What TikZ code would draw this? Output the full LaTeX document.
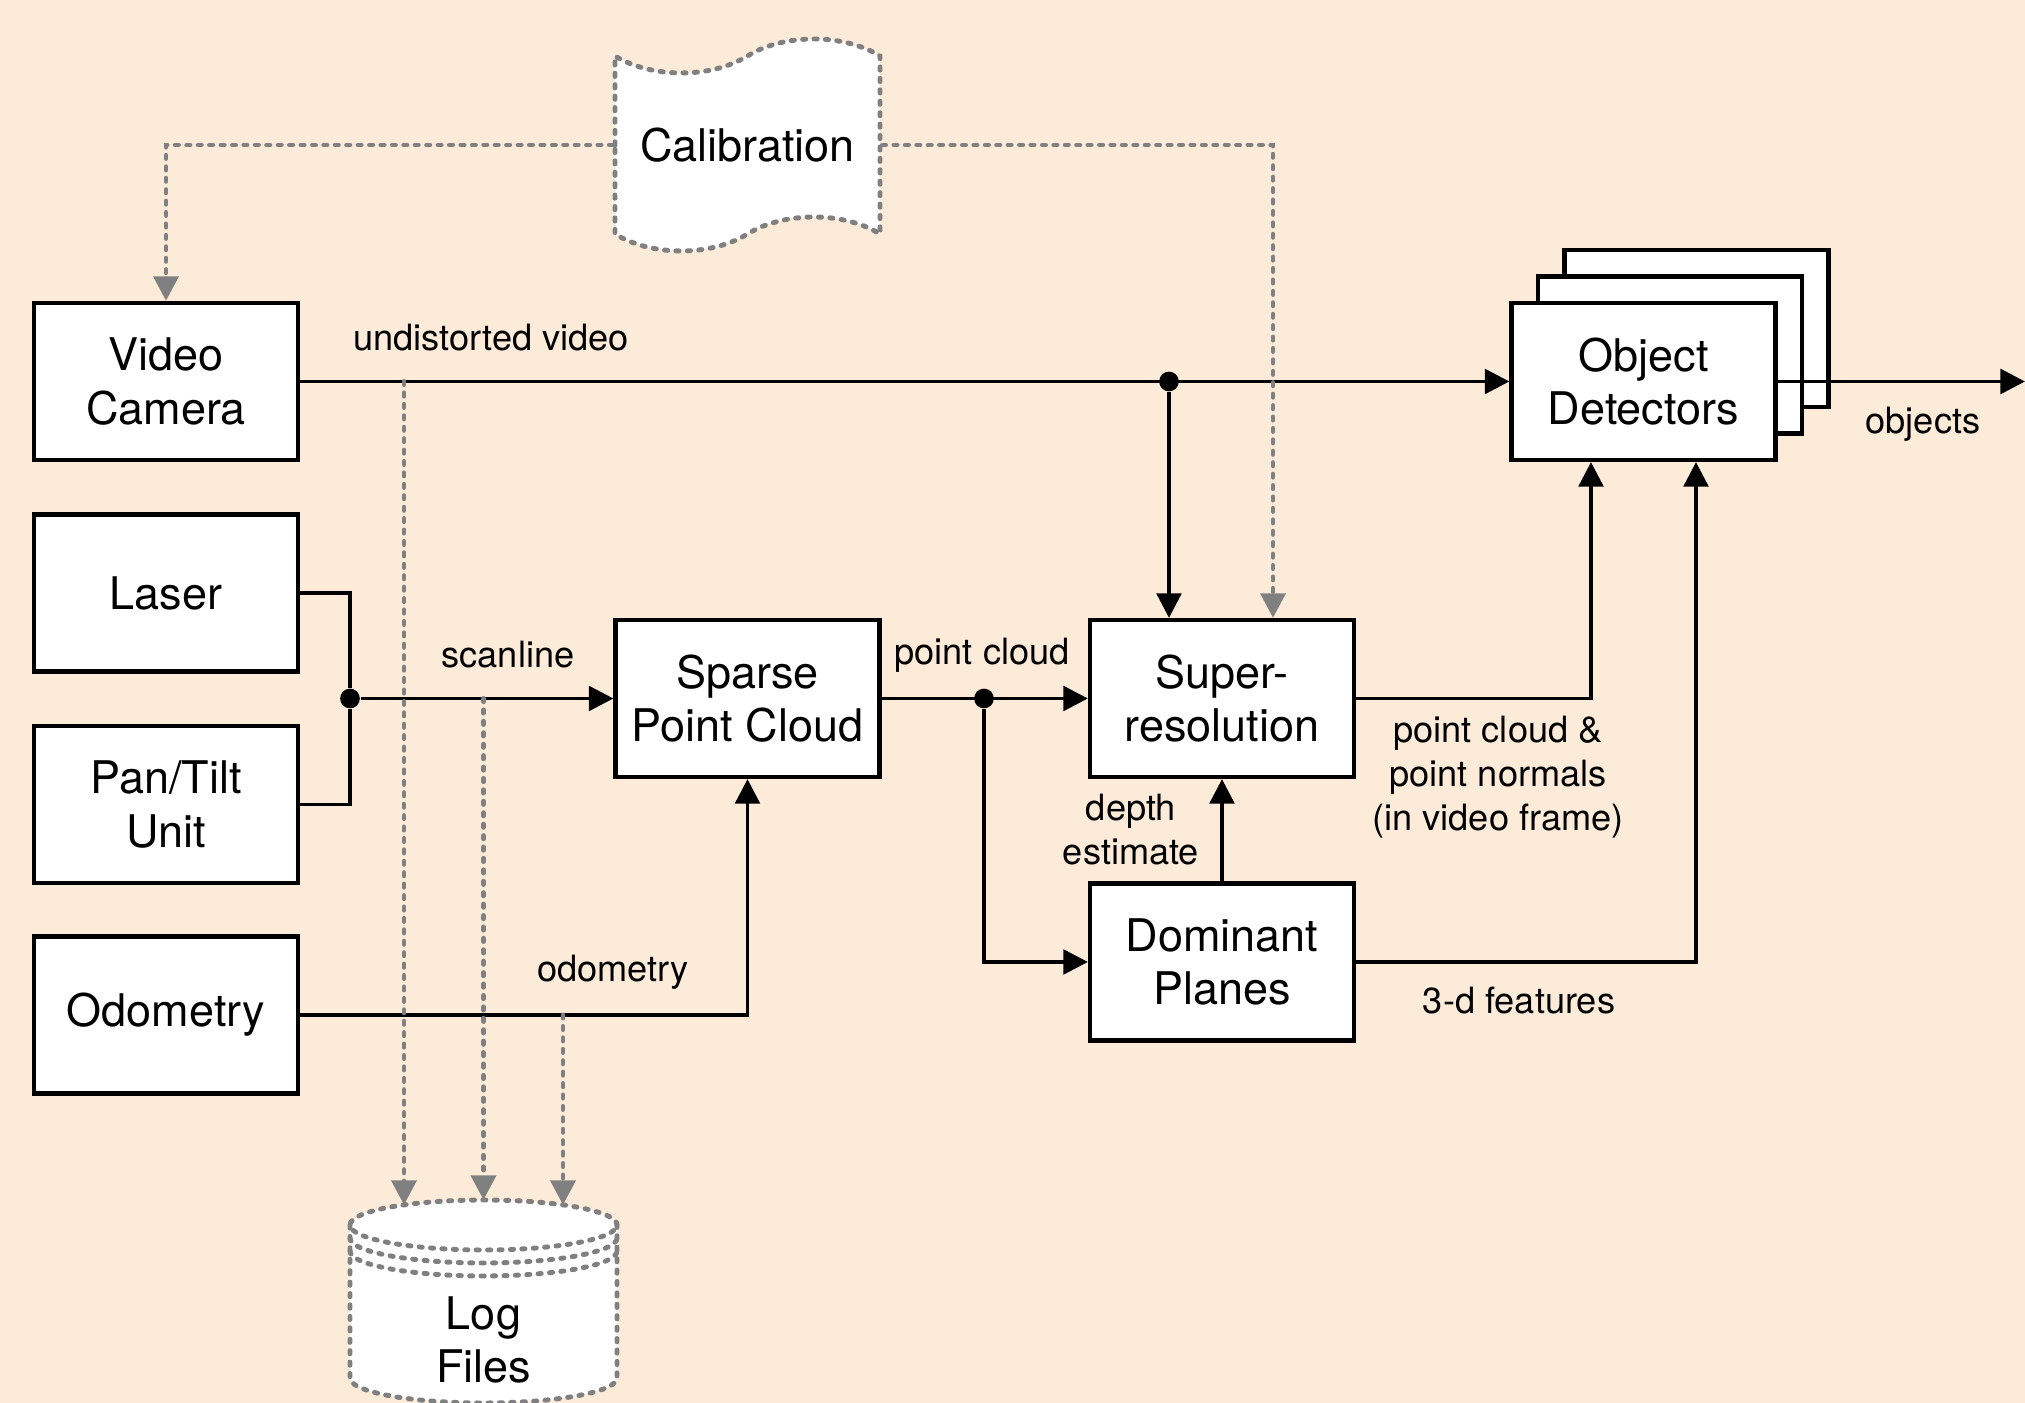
\documentclass[tikz,border=0pt]{standalone}
\usepackage{fontspec}
\setmainfont{TeX Gyre Heros}
\usetikzlibrary{arrows.meta, calc, shapes.symbols}
\definecolor{bgpeach}{RGB}{253,235,218}
\definecolor{lineGray}{RGB}{128,128,128}

\tikzset{
  block/.style={draw, fill=white, line width=1.2pt, minimum width=2.64cm, minimum height=1.57cm,
    align=center, inner sep=0pt, font=\fontsize{12.8}{15.2}\selectfont},
  tip/.style={-{Triangle[length=7pt,width=7pt]}},
  link/.style={line width=1.1pt},
  flow/.style={link, tip},
  dashline/.style={draw=lineGray, line width=1.4pt, line cap=round, dash pattern=on 0.9pt off 2.35pt},
  logflow/.style={dashline, tip},
  dot/.style={circle, fill, inner sep=0pt, minimum size=5.6pt},
  lbl/.style={font=\fontsize{10.3}{12.5}\selectfont, align=center, inner sep=0pt},
}

\begin{document}
\begin{tikzpicture}
  \fill[bgpeach] (0,0) rectangle (20.25,14.03);
  \useasboundingbox (0,0) rectangle (20.25,14.03);

  \node[block] (det3) at (16.965,10.745) {};
  \node[block] (det2) at (16.70,10.48) {};
  \node[block] (det) at (16.435,10.215) {Object\\Detectors};

  \node[block] (cam) at (1.66,10.215) {Video\\Camera};
  \node[block] (laser) at (1.66,8.10) {Laser};
  \node[block] (pan) at (1.66,5.985) {Pan/Tilt\\Unit};
  \node[block] (odo) at (1.66,3.88) {Odometry};
  \node[block] (sparse) at (7.475,7.045) {Sparse\\Point Cloud};
  \node[block] (super) at (12.22,7.045) {Super-\\resolution};
  \node[block] (dom) at (12.22,4.41) {Dominant\\Planes};

  \node[block, tape, dashline, minimum width=2.65cm, minimum height=2.12cm,
    tape bend height=0.34cm] (calib) at (7.475,12.58) {Calibration};

  \fill[white] (3.50,1.78) -- (3.50,0.25) arc[start angle=180, end angle=360, x radius=1.335cm, y radius=0.25cm]
    -- (6.17,1.78) arc[start angle=0, end angle=180, x radius=1.335cm, y radius=0.25cm] -- cycle;
  \draw[dashline] (4.835,1.78) ellipse[x radius=1.335cm, y radius=0.25cm];
  \draw[dashline] (3.50,1.65) arc[start angle=180, end angle=360, x radius=1.335cm, y radius=0.25cm];
  \draw[dashline] (3.50,1.52) arc[start angle=180, end angle=360, x radius=1.335cm, y radius=0.25cm];
  \draw[dashline] (3.50,1.78) -- (3.50,0.25) arc[start angle=180, end angle=360, x radius=1.335cm, y radius=0.25cm]
    -- (6.17,1.78);
  \node[font=\fontsize{12.8}{15.2}\selectfont, align=center, inner sep=0pt] (log) at (4.835,0.63) {Log\\Files};

  \node[dot] (vjunc) at (11.69,10.215) {};
  \node[dot] (sjunc) at (3.50,7.045) {};
  \node[dot] (pjunc) at (9.84,7.045) {};
  \coordinate (tapvid) at (4.04,10.215);
  \coordinate (tapscan) at (4.835,7.045);
  \coordinate (tapodo) at (5.63,3.88);
  \coordinate (logtop1) at (4.04,1.98);
  \coordinate (logtop2) at (4.835,2.03);
  \coordinate (logtop3) at (5.63,1.98);
  \coordinate (out) at (20.25,10.215);

  \draw[flow] (cam.east) -- (det.west);
  \draw[flow] (vjunc) -- (vjunc |- super.north);
  \draw[link] (laser.east) -| (sjunc);
  \draw[link] (pan.east) -| (sjunc);
  \draw[flow] (sjunc) -- (sparse.west);
  \draw[flow] (odo.east) -| (sparse.south);
  \draw[flow] (sparse.east) -- (super.west);
  \draw[flow] (pjunc) |- (dom.west);
  \draw[flow] (dom.north) -- (super.south);
  \draw[flow] (super.east) -| ($(det.south)+(-0.525,0)$);
  \draw[flow] (dom.east) -| ($(det.south)+(0.525,0)$);
  \draw[flow] (det.east) -- (out);

  \draw[logflow] (calib.west) -| (cam.north);
  \draw[logflow] (calib.east) -| ($(super.north)+(0.51,0)$);
  \draw[logflow] (tapvid) -- (logtop1);
  \draw[logflow] (tapscan) -- (logtop2);
  \draw[logflow] (tapodo) -- (logtop3);

  \node[lbl] (lvid) at (4.91,10.65) {undistorted video};
  \node[lbl] (lscan) at (5.08,7.48) {scanline};
  \node[lbl] (lpc) at (9.82,7.48) {point cloud};
  \node[lbl] (lodo) at (6.13,4.31) {odometry};
  \node[lbl] (ldepth) at (11.31,5.73) {depth\\estimate};
  \node[lbl] (lnorm) at (14.98,6.26) {point cloud \&\\point normals\\(in video frame)};
  \node[lbl] (lfeat) at (15.19,4.02) {3-d features};
  \node[lbl] (lobj) at (19.23,9.79) {objects};
\end{tikzpicture}
\end{document}
